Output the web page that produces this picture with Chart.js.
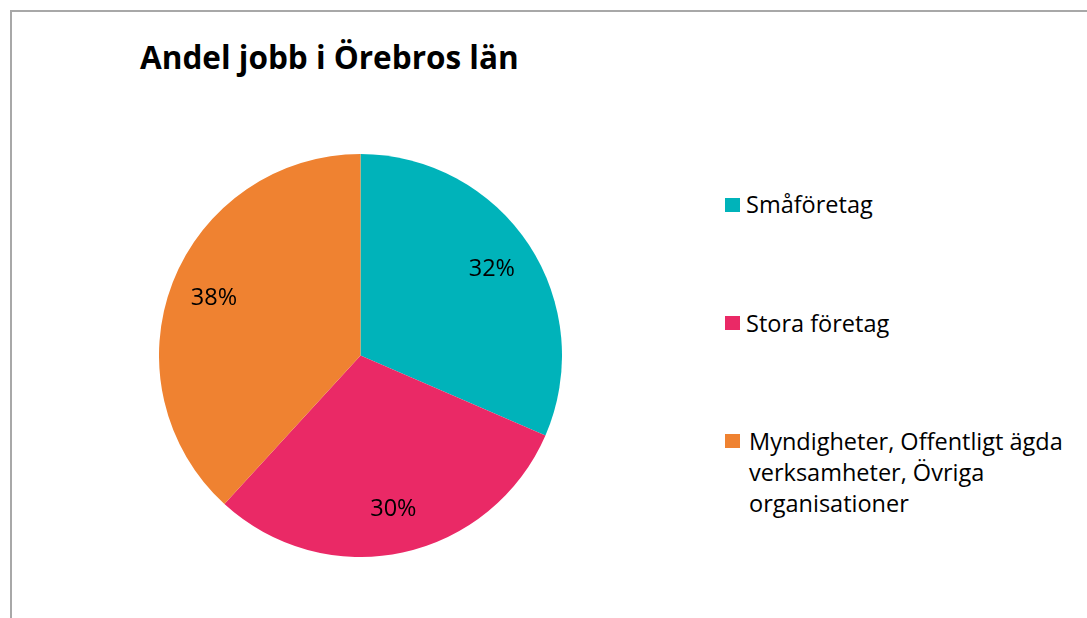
<!DOCTYPE html>
<html>
<head>
<meta charset="utf-8">
<script src="https://cdn.jsdelivr.net/npm/chart.js@4.4.1/dist/chart.umd.min.js"></script>
<style>
  html, body { margin: 0; padding: 0; background: #fff; }
  body { width: 1087px; height: 618px; position: relative; overflow: hidden; font-family: "Open Sans", sans-serif; }
  #frame { position: absolute; left: 10px; top: 10px; width: 1077px; height: 608px;
           border-top: 2px solid #a8a8a8; border-left: 2px solid #a8a8a8; box-sizing: border-box; }
  #title { position: absolute; left: 140px; top: 35px; font-size: 31.5px; font-weight: 700; color: #000; white-space: nowrap; }
  #pieBox { position: absolute; left: 159px; top: 153.5px; width: 403px; height: 403px; }
  #legend { position: absolute; left: 725px; top: 0; }
  .item { position: absolute; left: 0; white-space: nowrap; }
  .box { position: absolute; left: 0; width: 15px; height: 14px; }
  .txt { position: absolute; font-size: 23.5px; line-height: 31px; color: #000; }
</style>
</head>
<body>
<div id="frame"></div>
<div id="title">Andel jobb i Örebros län</div>
<div id="pieBox"><canvas id="pie"></canvas></div>
<div id="legend"></div>
<script>
// categories and shares (percent)
const categories = ['Småföretag', 'Stora företag', 'Myndigheter, Offentligt ägda verksamheter, Övriga organisationer'];
const legendLines = [['Småföretag'], ['Stora företag'], ['Myndigheter, Offentligt ägda', 'verksamheter, Övriga', 'organisationer']];
const shares = [31.5, 30.3, 38.2];
const colors = ['#00b3ba', '#ea2966', '#ef8231'];

// percent labels inside the slices
const pctLabels = {
  id: 'pctLabels',
  afterDatasetsDraw(chart) {
    const ctx = chart.ctx;
    const meta = chart.getDatasetMeta(0);
    const total = shares.reduce((a, b) => a + b, 0);
    ctx.save();
    ctx.font = '23.5px "Open Sans", sans-serif';
    ctx.fillStyle = '#000';
    ctx.textAlign = 'center';
    ctx.textBaseline = 'middle';
    meta.data.forEach((arc, i) => {
      const p = arc.getProps(['x', 'y', 'startAngle', 'endAngle', 'outerRadius'], true);
      const mid = (p.startAngle + p.endAngle) / 2;
      const r = p.outerRadius * 0.78;
      ctx.fillText(Math.round(shares[i] / total * 100) + '%', p.x + Math.cos(mid) * r, p.y + Math.sin(mid) * r);
    });
    ctx.restore();
  }
};

function drawPie() {
  const ctx = document.getElementById('pie').getContext('2d');
  new Chart(ctx, {
    type: 'pie',
    data: {
      labels: categories,
      datasets: [{
        data: shares,
        backgroundColor: colors,
        borderWidth: 0
      }]
    },
    options: {
      responsive: true,
      maintainAspectRatio: false,
      animation: false,
      layout: { padding: 0 },
      plugins: { legend: { display: false }, tooltip: { enabled: false } }
    },
    plugins: [pctLabels]
  });
}

function drawLegend() {
  const legend = document.getElementById('legend');
  const boxTops = [197.5, 316, 434];
  const textLefts = [21, 21, 24];
  legendLines.forEach((lines, i) => {
    const item = document.createElement('div');
    item.className = 'item';
    item.style.top = boxTops[i] + 'px';
    const box = document.createElement('div');
    box.className = 'box';
    box.style.background = colors[i];
    item.appendChild(box);
    const txt = document.createElement('div');
    txt.className = 'txt';
    txt.style.left = textLefts[i] + 'px';
    txt.style.top = '-8.5px';
    txt.innerHTML = lines.join('<br>');
    item.appendChild(txt);
    legend.appendChild(item);
  });
}

window.onload = function() {
  drawPie();
  drawLegend();
};
</script>
</body>
</html>
